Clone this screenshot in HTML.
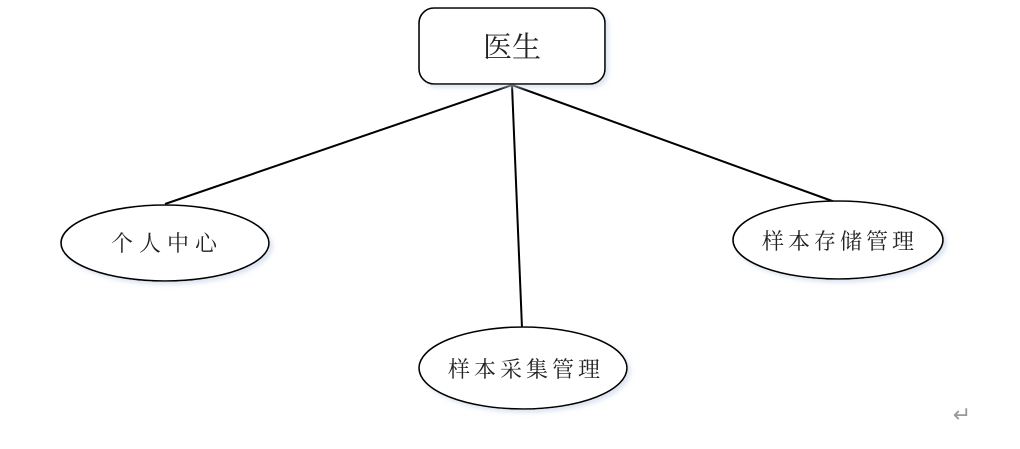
<!DOCTYPE html>
<html><head><meta charset="utf-8"><style>
html,body{margin:0;padding:0;background:#fff;}
svg text{font-family:"Liberation Serif","Noto Serif CJK SC",serif;fill:#222;}
</style></head><body>
<svg width="1020" height="444" viewBox="0 0 1020 444" xmlns="http://www.w3.org/2000/svg">
<defs><filter id="s" x="-10%" y="-10%" width="130%" height="130%"><feDropShadow dx="3" dy="3" stdDeviation="2" flood-color="#c8d4e8" flood-opacity="0.6"/></filter></defs>
<g stroke="#000" stroke-width="2" fill="none">
<line x1="512" y1="85" x2="165" y2="204"/>
<line x1="512" y1="85" x2="522" y2="328"/>
<line x1="512" y1="85" x2="835" y2="202"/>
</g>
<g stroke="#000" stroke-width="1.6" fill="#fff" filter="url(#s)">
<rect x="419" y="8" width="186" height="76" rx="15"/>
<ellipse cx="165" cy="243" rx="104" ry="38"/>
<ellipse cx="838" cy="240" rx="105" ry="39"/>
<ellipse cx="523" cy="368" rx="104" ry="41"/>
</g>
<text x="512" y="57" font-size="29" text-anchor="middle">医生</text>
<text x="167" y="251" font-size="22" text-anchor="middle" letter-spacing="6">个人中心</text>
<text x="840" y="249" font-size="22" text-anchor="middle" letter-spacing="4">样本存储管理</text>
<text x="526" y="377" font-size="22" text-anchor="middle" letter-spacing="4">样本采集管理</text>
<text x="962" y="422" font-size="22" text-anchor="middle" style="fill:#999">↵</text>
</svg>
</body></html>
